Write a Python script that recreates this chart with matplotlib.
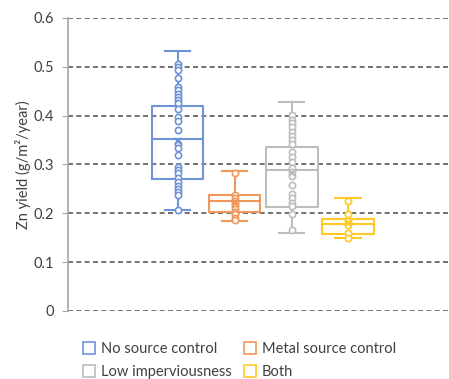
import numpy as np
import matplotlib.pyplot as plt
from matplotlib.lines import Line2D

plt.rcParams['font.family'] = ['Lato', 'DejaVu Sans']

groups = ['No source control', 'Metal source control', 'Low imperviousness', 'Both']
colors = ['#6F93D8', '#F0985C', '#BDBDBD', '#FFC928']

# box summary per group: whisker low, Q1, median, mean, Q3, whisker high
whislo = [0.206, 0.184, 0.160, 0.149]
q1 = [0.271, 0.202, 0.212, 0.157]
med = [0.352, 0.225, 0.288, 0.179]
mean = [0.348, 0.222, 0.282, 0.181]
q3 = [0.420, 0.238, 0.336, 0.188]
whishi = [0.532, 0.286, 0.427, 0.232]

# individual yields
pts_none = [0.506, 0.500, 0.494, 0.478, 0.459, 0.452, 0.445, 0.439, 0.432, 0.425,
            0.413, 0.397, 0.389, 0.370, 0.343, 0.334, 0.319, 0.295, 0.288, 0.282,
            0.273, 0.264, 0.256, 0.249, 0.243, 0.237, 0.206]
pts_metal = [0.283, 0.238, 0.232, 0.226, 0.221, 0.214, 0.208, 0.203, 0.198, 0.190, 0.186]
pts_low = [0.401, 0.392, 0.384, 0.376, 0.367, 0.358, 0.350, 0.343, 0.326, 0.316,
           0.306, 0.292, 0.285, 0.276, 0.258, 0.239, 0.231, 0.222, 0.214, 0.198, 0.166]
pts_both = [0.225, 0.198, 0.184, 0.176, 0.160, 0.150]
points = [pts_none, pts_metal, pts_low, pts_both]

positions = [1.92, 2.92, 3.92, 4.91]

fig = plt.figure(figsize=(4.49, 3.79), dpi=100)
ax = fig.add_axes([68 / 449, 1 - 311 / 379, 381 / 449, 293 / 379])

stats = []
for i in range(4):
    stats.append(dict(whislo=whislo[i], q1=q1[i], med=med[i], mean=mean[i],
                      q3=q3[i], whishi=whishi[i], fliers=[]))

for i, st in enumerate(stats):
    c = colors[i]
    ax.bxp([st], positions=[positions[i]], widths=0.91, showmeans=False,
           showfliers=False,
           boxprops=dict(color=c, lw=1.5),
           medianprops=dict(color=c, lw=1.5),
           whiskerprops=dict(color=c, lw=1.5),
           capprops=dict(color=c, lw=1.5), capwidths=0.45)
    ax.plot([positions[i]] * len(points[i]), points[i], 'o', ms=4.5,
            mfc='white', mec=c, mew=1.2, zorder=3)
    ax.plot(positions[i], mean[i], 'x', ms=5, mec=c, mew=1.5, zorder=4)

ax.set_xlim(0, 6.68)
ax.set_ylim(0, 0.6)
ax.set_yticks(np.arange(0, 0.61, 0.1))
ax.set_yticklabels(['0', '0.1', '0.2', '0.3', '0.4', '0.5', '0.6'])
ax.yaxis.grid(True, ls=(0, (3, 2)), color='#595959', lw=1.2)
ax.set_axisbelow(True)
ax.set_xticks([])
for s in ['top', 'right', 'bottom']:
    ax.spines[s].set_visible(False)
ax.spines['left'].set_color('#A6A6A6')
ax.spines['left'].set_linewidth(1.2)
ax.tick_params(axis='y', length=4, color='#A6A6A6', labelsize=10.5,
               labelcolor='#404040', pad=6)
ax.set_ylabel('Zn yield (g/m²/year)', fontsize=10.5, color='#404040', labelpad=2)

# legend fills column-wise, so order handles to read across rows
order = [0, 2, 1, 3]
handles = [Line2D([], [], ls='none', marker='s', ms=8, mfc='white',
                  mec=colors[k], mew=1.2) for k in order]
labels = [groups[k] for k in order]
fig.legend(handles, labels, loc='lower left', bbox_to_anchor=(70 / 449, -0.035),
           ncol=2, frameon=False, fontsize=10.5, handlelength=0.8,
           handletextpad=0.4, columnspacing=0.9, labelspacing=0.65,
           labelcolor='#404040')

fig.savefig('out.png', dpi=100)
